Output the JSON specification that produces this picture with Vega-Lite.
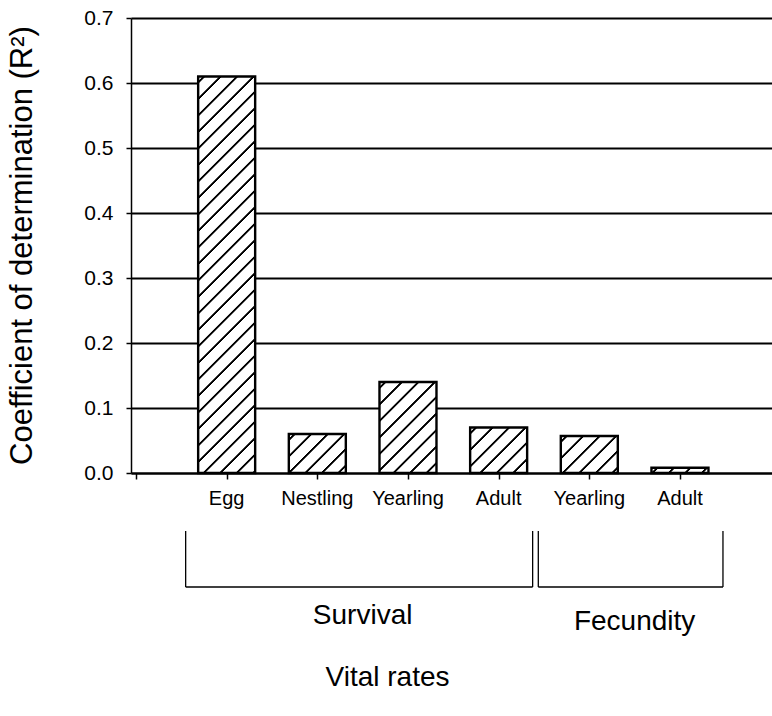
{
  "$schema": "https://vega.github.io/schema/vega-lite/v6.json",
  "width": 641,
  "height": 455,
  "autosize": {"type": "none"},
  "padding": {"left": 131, "top": 18, "right": 0, "bottom": 243},
  "background": "white",
  "config": {
    "view": {"stroke": null},
    "font": "Liberation Sans",
    "axis": {"labelFont": "Liberation Sans", "titleFont": "Liberation Sans"},
    "text": {"font": "Liberation Sans"}
  },
  "params": [
    {
      "name": "hatch",
      "value": [
        {"offset": 0.0084, "color": "#fff"}, {"offset": 0.0102, "color": "#000"}, {"offset": 0.0138, "color": "#000"}, {"offset": 0.0156, "color": "#fff"},
        {"offset": 0.0414, "color": "#fff"}, {"offset": 0.0432, "color": "#000"}, {"offset": 0.0468, "color": "#000"}, {"offset": 0.0486, "color": "#fff"},
        {"offset": 0.0744, "color": "#fff"}, {"offset": 0.0762, "color": "#000"}, {"offset": 0.0798, "color": "#000"}, {"offset": 0.0816, "color": "#fff"},
        {"offset": 0.1074, "color": "#fff"}, {"offset": 0.1092, "color": "#000"}, {"offset": 0.1128, "color": "#000"}, {"offset": 0.1146, "color": "#fff"},
        {"offset": 0.1404, "color": "#fff"}, {"offset": 0.1422, "color": "#000"}, {"offset": 0.1458, "color": "#000"}, {"offset": 0.1476, "color": "#fff"},
        {"offset": 0.1734, "color": "#fff"}, {"offset": 0.1752, "color": "#000"}, {"offset": 0.1788, "color": "#000"}, {"offset": 0.1806, "color": "#fff"},
        {"offset": 0.2064, "color": "#fff"}, {"offset": 0.2082, "color": "#000"}, {"offset": 0.2118, "color": "#000"}, {"offset": 0.2136, "color": "#fff"},
        {"offset": 0.2394, "color": "#fff"}, {"offset": 0.2412, "color": "#000"}, {"offset": 0.2448, "color": "#000"}, {"offset": 0.2466, "color": "#fff"},
        {"offset": 0.2724, "color": "#fff"}, {"offset": 0.2742, "color": "#000"}, {"offset": 0.2778, "color": "#000"}, {"offset": 0.2796, "color": "#fff"},
        {"offset": 0.3054, "color": "#fff"}, {"offset": 0.3072, "color": "#000"}, {"offset": 0.3108, "color": "#000"}, {"offset": 0.3126, "color": "#fff"},
        {"offset": 0.3384, "color": "#fff"}, {"offset": 0.3402, "color": "#000"}, {"offset": 0.3438, "color": "#000"}, {"offset": 0.3456, "color": "#fff"},
        {"offset": 0.3714, "color": "#fff"}, {"offset": 0.3732, "color": "#000"}, {"offset": 0.3768, "color": "#000"}, {"offset": 0.3786, "color": "#fff"},
        {"offset": 0.4044, "color": "#fff"}, {"offset": 0.4062, "color": "#000"}, {"offset": 0.4098, "color": "#000"}, {"offset": 0.4116, "color": "#fff"},
        {"offset": 0.4374, "color": "#fff"}, {"offset": 0.4392, "color": "#000"}, {"offset": 0.4428, "color": "#000"}, {"offset": 0.4446, "color": "#fff"},
        {"offset": 0.4704, "color": "#fff"}, {"offset": 0.4722, "color": "#000"}, {"offset": 0.4758, "color": "#000"}, {"offset": 0.4776, "color": "#fff"},
        {"offset": 0.5034, "color": "#fff"}, {"offset": 0.5052, "color": "#000"}, {"offset": 0.5088, "color": "#000"}, {"offset": 0.5106, "color": "#fff"},
        {"offset": 0.5364, "color": "#fff"}, {"offset": 0.5382, "color": "#000"}, {"offset": 0.5418, "color": "#000"}, {"offset": 0.5436, "color": "#fff"},
        {"offset": 0.5694, "color": "#fff"}, {"offset": 0.5712, "color": "#000"}, {"offset": 0.5748, "color": "#000"}, {"offset": 0.5766, "color": "#fff"},
        {"offset": 0.6024, "color": "#fff"}, {"offset": 0.6042, "color": "#000"}, {"offset": 0.6078, "color": "#000"}, {"offset": 0.6096, "color": "#fff"},
        {"offset": 0.6354, "color": "#fff"}, {"offset": 0.6372, "color": "#000"}, {"offset": 0.6408, "color": "#000"}, {"offset": 0.6426, "color": "#fff"},
        {"offset": 0.6684, "color": "#fff"}, {"offset": 0.6702, "color": "#000"}, {"offset": 0.6738, "color": "#000"}, {"offset": 0.6756, "color": "#fff"},
        {"offset": 0.7014, "color": "#fff"}, {"offset": 0.7032, "color": "#000"}, {"offset": 0.7068, "color": "#000"}, {"offset": 0.7086, "color": "#fff"},
        {"offset": 0.7344, "color": "#fff"}, {"offset": 0.7362, "color": "#000"}, {"offset": 0.7398, "color": "#000"}, {"offset": 0.7416, "color": "#fff"},
        {"offset": 0.7674, "color": "#fff"}, {"offset": 0.7692, "color": "#000"}, {"offset": 0.7728, "color": "#000"}, {"offset": 0.7746, "color": "#fff"},
        {"offset": 0.8004, "color": "#fff"}, {"offset": 0.8022, "color": "#000"}, {"offset": 0.8058, "color": "#000"}, {"offset": 0.8076, "color": "#fff"},
        {"offset": 0.8334, "color": "#fff"}, {"offset": 0.8352, "color": "#000"}, {"offset": 0.8388, "color": "#000"}, {"offset": 0.8406, "color": "#fff"},
        {"offset": 0.8664, "color": "#fff"}, {"offset": 0.8682, "color": "#000"}, {"offset": 0.8718, "color": "#000"}, {"offset": 0.8736, "color": "#fff"},
        {"offset": 0.8994, "color": "#fff"}, {"offset": 0.9012, "color": "#000"}, {"offset": 0.9048, "color": "#000"}, {"offset": 0.9066, "color": "#fff"},
        {"offset": 0.9324, "color": "#fff"}, {"offset": 0.9342, "color": "#000"}, {"offset": 0.9378, "color": "#000"}, {"offset": 0.9396, "color": "#fff"},
        {"offset": 0.9654, "color": "#fff"}, {"offset": 0.9672, "color": "#000"}, {"offset": 0.9708, "color": "#000"}, {"offset": 0.9726, "color": "#fff"}
      ]
    }
  ],
  "data": {
    "values": [
      {"pos": 1, "rate": "Egg", "group": "Survival", "r2": 0.61},
      {"pos": 2, "rate": "Nestling", "group": "Survival", "r2": 0.06},
      {"pos": 3, "rate": "Yearling", "group": "Survival", "r2": 0.14},
      {"pos": 4, "rate": "Adult", "group": "Survival", "r2": 0.07},
      {"pos": 5, "rate": "Yearling", "group": "Fecundity", "r2": 0.057},
      {"pos": 6, "rate": "Adult", "group": "Fecundity", "r2": 0.008}
    ]
  },
  "layer": [
    {
      "mark": {"type": "bar", "width": 57, "stroke": "black", "strokeWidth": 2.4},
      "encoding": {
        "x": {
          "field": "pos",
          "type": "quantitative",
          "scale": {"domain": [0, 6.96], "nice": false, "zero": false},
          "axis": {
            "values": [0, 1, 2, 3, 4, 5, 6],
            "labels": false,
            "grid": false,
            "domain": true,
            "domainColor": "black",
            "domainWidth": 2,
            "ticks": true,
            "tickSize": 6,
            "tickColor": "black",
            "tickWidth": 1.5,
            "title": "Vital rates",
            "titleFontSize": 28,
            "titleFontWeight": "normal",
            "titleColor": "black",
            "titleX": 256,
            "titleY": 212,
            "titleAlign": "center",
            "titleBaseline": "alphabetic"
          }
        },
        "y": {
          "field": "r2",
          "type": "quantitative",
          "scale": {"domain": [0, 0.7], "nice": false, "zero": true},
          "axis": {
            "values": [0, 0.1, 0.2, 0.3, 0.4, 0.5, 0.6, 0.7],
            "format": ".1f",
            "grid": true,
            "gridColor": "black",
            "gridWidth": 2,
            "gridOpacity": 1,
            "domain": true,
            "domainColor": "black",
            "domainWidth": 1.5,
            "ticks": true,
            "tickSize": 5,
            "tickColor": "black",
            "tickWidth": 1.5,
            "labelFontSize": 21,
            "labelColor": "black",
            "labelPadding": 13,
            "title": "Coefficient of determination (R²)",
            "titleFontSize": 31,
            "titleFontWeight": "normal",
            "titleColor": "black",
            "titleX": -109,
            "titleY": 227,
            "titleAngle": -90,
            "titleAlign": "center",
            "titleBaseline": "middle"
          }
        },
        "fill": {
          "value": {
            "expr": "{gradient: 'linear', x1: 0, y1: 0, x2: 28500 / (3249 + pow(scale('y', 0) - scale('y', datum.r2), 2)), y2: 500 * (scale('y', 0) - scale('y', datum.r2)) / (3249 + pow(scale('y', 0) - scale('y', datum.r2), 2)), stops: hatch}"
          }
        }
      }
    },
    {
      "mark": {"type": "text", "fontSize": 20, "baseline": "alphabetic", "align": "center", "color": "black"},
      "encoding": {
        "x": {"field": "pos", "type": "quantitative"},
        "y": {"datum": -0.0492},
        "text": {"field": "rate", "type": "nominal"}
      }
    },
    {
      "transform": [
        {"filter": "datum.group === 'Survival'"},
        {"aggregate": [
          {"op": "min", "field": "pos", "as": "lo"},
          {"op": "max", "field": "pos", "as": "hi"},
          {"op": "mean", "field": "pos", "as": "mid"}
        ], "groupby": ["group"]}
      ],
      "layer": [
        {
          "mark": {"type": "rule", "xOffset": -41, "color": "black", "strokeWidth": 1.3},
          "encoding": {
            "x": {"field": "lo", "type": "quantitative"},
            "y": {"datum": -0.0892},
            "y2": {"datum": -0.1754}
          }
        },
        {
          "mark": {"type": "rule", "xOffset": -41, "x2Offset": 34, "color": "black", "strokeWidth": 1.3},
          "encoding": {
            "x": {"field": "lo", "type": "quantitative"},
            "x2": {"field": "hi"},
            "y": {"datum": -0.1754}
          }
        },
        {
          "mark": {"type": "rule", "xOffset": 34, "color": "black", "strokeWidth": 1.3},
          "encoding": {
            "x": {"field": "hi", "type": "quantitative"},
            "y": {"datum": -0.0892},
            "y2": {"datum": -0.1754}
          }
        },
        {
          "mark": {"type": "text", "fontSize": 28, "baseline": "alphabetic", "align": "center", "color": "black"},
          "encoding": {
            "x": {"field": "mid", "type": "quantitative"},
            "y": {"datum": -0.232},
            "text": {"field": "group", "type": "nominal"}
          }
        }
      ]
    },
    {
      "transform": [
        {"filter": "datum.group === 'Fecundity'"},
        {"aggregate": [
          {"op": "min", "field": "pos", "as": "lo"},
          {"op": "max", "field": "pos", "as": "hi"},
          {"op": "mean", "field": "pos", "as": "mid"}
        ], "groupby": ["group"]}
      ],
      "layer": [
        {
          "mark": {"type": "rule", "xOffset": -51, "color": "black", "strokeWidth": 1.3},
          "encoding": {
            "x": {"field": "lo", "type": "quantitative"},
            "y": {"datum": -0.0892},
            "y2": {"datum": -0.1754}
          }
        },
        {
          "mark": {"type": "rule", "xOffset": -51, "x2Offset": 43, "color": "black", "strokeWidth": 1.3},
          "encoding": {
            "x": {"field": "lo", "type": "quantitative"},
            "x2": {"field": "hi"},
            "y": {"datum": -0.1754}
          }
        },
        {
          "mark": {"type": "rule", "xOffset": 43, "color": "black", "strokeWidth": 1.3},
          "encoding": {
            "x": {"field": "hi", "type": "quantitative"},
            "y": {"datum": -0.0892},
            "y2": {"datum": -0.1754}
          }
        },
        {
          "mark": {"type": "text", "fontSize": 28, "baseline": "alphabetic", "align": "center", "color": "black"},
          "encoding": {
            "x": {"field": "mid", "type": "quantitative"},
            "y": {"datum": -0.242},
            "text": {"field": "group", "type": "nominal"}
          }
        }
      ]
    }
  ]
}
